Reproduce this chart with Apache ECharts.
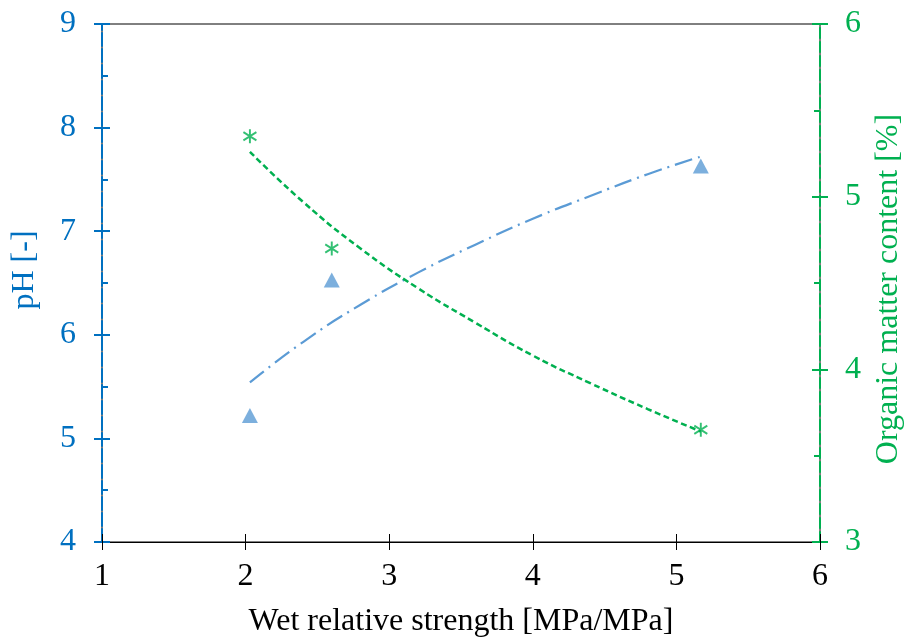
<!DOCTYPE html>
<html>
<head>
<meta charset="utf-8">
<script src="https://cdn.jsdelivr.net/npm/echarts@6/dist/echarts.min.js"></script>
<style>html,body{margin:0;padding:0;background:#fff}#c{width:905px;height:638px}</style>
</head>
<body>
<div id="c"></div>
<script>
// Measured points
const strength = [2.03, 2.6, 5.17];
const phValues = [5.22, 6.53, 7.63];
const omValues = [5.35, 4.70, 3.65];
// Trend lines
const fitX = [2.03, 2.4, 2.8, 3.2, 3.6, 4.0, 4.4, 4.8, 5.17];
const phFit = [5.54, 5.93, 6.29, 6.60, 6.87, 7.12, 7.34, 7.55, 7.72];
const omFit = [5.26, 4.97, 4.70, 4.47, 4.27, 4.08, 3.92, 3.77, 3.64];
// Axis labels
const xName = 'Wet relative strength [MPa/MPa]';
const yLeftName = 'pH [-]';
const yRightName = 'Organic matter content [%]';

const FONT = 'Liberation Serif';
const FS = 32;
const BLUE = '#0070C0';
const BLUE_M = '#5B9BD5';
const GREEN = '#00B050';

const zip = (a, b) => a.map((v, i) => [v, b[i]]);

const chart = echarts.init(document.getElementById('c'), null, {renderer: 'canvas'});
const starPath = 'path://M0,-10L0,10M-8,-6L8,6M-8,6L8,-6';

chart.setOption({
  animation: false,
  backgroundColor: '#fff',
  grid: {left: 102, right: 85, top: 24, bottom: 96, show: true, borderColor: '#000', borderWidth: 1,
         containLabel: false, outerBoundsMode: 'none'},
  xAxis: [
    {type: 'value', min: 1, max: 6, interval: 1, name: xName, nameLocation: 'middle', nameGap: 64,
     nameTextStyle: {fontFamily: FONT, fontSize: FS, color: '#000'},
     axisLine: {show: true, lineStyle: {color: '#000', width: 1}},
     axisTick: {show: true, inside: false, length: 8, lineStyle: {color: '#000'}},
     axisLabel: {fontFamily: FONT, fontSize: FS, color: '#000', margin: 19},
     splitLine: {show: false}},
    {type: 'value', min: 1, max: 6, interval: 1, position: 'bottom',
     axisLine: {show: false}, axisTick: {show: true, inside: true, length: 8, lineStyle: {color: '#000'}},
     axisLabel: {show: false}, splitLine: {show: false}}
  ],
  yAxis: [
    {type: 'value', min: 4, max: 9, interval: 1, position: 'left', name: yLeftName, nameLocation: 'middle', nameGap: 61,
     nameTextStyle: {fontFamily: FONT, fontSize: FS, color: BLUE, padding: [0, 0, 0, 26]},
     axisLine: {show: true, lineStyle: {color: BLUE, width: 2, type: [13, 3]}},
     axisTick: {show: true, inside: false, length: 8, lineStyle: {color: BLUE, width: 2}},
     axisLabel: {fontFamily: FONT, fontSize: FS, color: BLUE, margin: 26},
     splitLine: {show: false}},
    {type: 'value', min: 3, max: 6, interval: 1, position: 'right', name: yRightName, nameLocation: 'middle', nameGap: 53,
     nameTextStyle: {fontFamily: FONT, fontSize: FS, color: GREEN, padding: [0, 12, 0, 0]},
     axisLine: {show: true, lineStyle: {color: GREEN, width: 2, type: [10, 4]}},
     axisTick: {show: true, inside: false, length: 8, lineStyle: {color: GREEN, width: 2}},
     axisLabel: {fontFamily: FONT, fontSize: FS, color: GREEN, margin: 25},
     splitLine: {show: false}},
    {type: 'value', min: 4, max: 9, interval: 1, position: 'left',
     axisLine: {show: false},
     axisTick: {show: true, inside: true, length: 8, lineStyle: {color: BLUE, width: 2}},
     minorTick: {show: true, splitNumber: 2, length: 6, lineStyle: {color: BLUE, width: 2}},
     axisLabel: {show: false}, splitLine: {show: false}},
    {type: 'value', min: 3, max: 6, interval: 1, position: 'right',
     axisLine: {show: false},
     axisTick: {show: true, inside: true, length: 8, lineStyle: {color: GREEN, width: 2}},
     minorTick: {show: true, splitNumber: 2, length: 6, lineStyle: {color: GREEN, width: 2}},
     axisLabel: {show: false}, splitLine: {show: false}}
  ],
  series: [
    {type: 'line', xAxisIndex: 0, yAxisIndex: 0, data: zip(fitX, phFit), smooth: true, showSymbol: false,
     lineStyle: {color: BLUE_M, width: 2.2, type: [18, 6, 2, 6]}, z: 2},
    {type: 'line', xAxisIndex: 0, yAxisIndex: 1, data: zip(fitX, omFit), smooth: true, showSymbol: false,
     lineStyle: {color: GREEN, width: 2.5, type: [6, 3.5]}, z: 2},
    {type: 'scatter', xAxisIndex: 0, yAxisIndex: 0, data: zip(strength, phValues), symbol: 'triangle', symbolSize: [16, 15],
     itemStyle: {color: BLUE_M}, z: 3},
    {type: 'scatter', xAxisIndex: 0, yAxisIndex: 1, data: zip(strength, omValues), symbol: starPath, symbolSize: [13, 14],
     itemStyle: {color: 'none', borderColor: GREEN, borderWidth: 2}, z: 3}
  ]
});
</script>
</body>
</html>
